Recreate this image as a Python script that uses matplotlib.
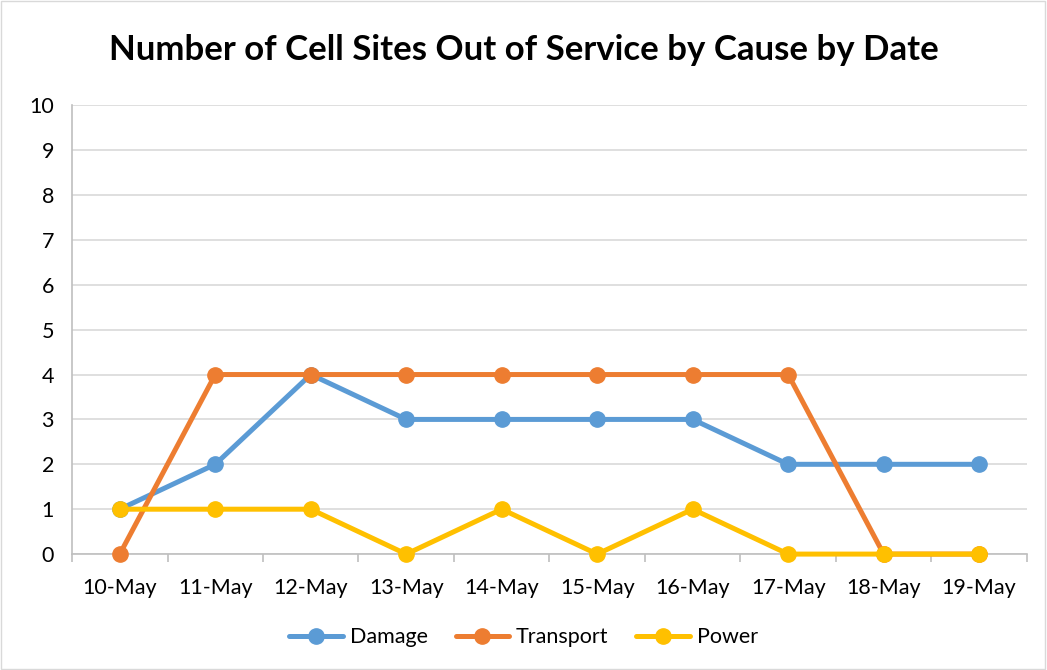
import matplotlib.pyplot as plt
from matplotlib.patches import Rectangle
from matplotlib.ticker import FixedLocator

dates = ['10-May', '11-May', '12-May', '13-May', '14-May',
         '15-May', '16-May', '17-May', '18-May', '19-May']
damage = [1, 2, 4, 3, 3, 3, 3, 2, 2, 2]
transport = [0, 4, 4, 4, 4, 4, 4, 4, 0, 0]
power = [1, 1, 1, 0, 1, 0, 1, 0, 0, 0]

plt.rcParams['font.family'] = ['Lato', 'DejaVu Sans']

fig = plt.figure(figsize=(10.47, 6.7), dpi=100)
ax = fig.add_axes([0.0688, 0.173, 0.912, 0.670])

x = list(range(len(dates)))
for ys, col, lab, z in [(damage, '#5B9BD5', 'Damage', 3),
                        (transport, '#ED7D31', 'Transport', 4),
                        (power, '#FFC000', 'Power', 5)]:
    ax.plot(x, ys, color=col, lw=3.6, marker='o', ms=11, label=lab,
            solid_capstyle='round', zorder=z, clip_on=False)

ax.set_xlim(-0.5, 9.5)
ax.set_ylim(0, 10)
ax.set_yticks(range(0, 11))
ax.set_xticks(x)
ax.set_xticklabels(dates)
ax.xaxis.set_minor_locator(FixedLocator([i - 0.5 for i in range(11)]))
ax.tick_params(axis='x', which='major', length=0, pad=17, labelsize=15.5, colors='#000000')
ax.tick_params(axis='x', which='minor', length=6, color='#bfbfbf', width=1.2)
ax.tick_params(axis='y', length=0, pad=13, labelsize=15.5)
ax.grid(axis='y', color='#d9d9d9', lw=1.2, zorder=0)
for s in ['top', 'right']:
    ax.spines[s].set_visible(False)
for s in ['left', 'bottom']:
    ax.spines[s].set_color('#bfbfbf')
    ax.spines[s].set_linewidth(1.2)

fig.suptitle('Number of Cell Sites Out of Service by Cause by Date',
             y=0.925, va='center', fontsize=25, fontweight='bold')
fig.legend(loc='center', bbox_to_anchor=(0.5, 0.049), ncol=3, frameon=False,
           fontsize=15.5, handlelength=2.5, handletextpad=0.3, columnspacing=1.3)

fig.add_artist(Rectangle((0.001, 0.001), 0.997, 0.997, transform=fig.transFigure,
                         fill=False, edgecolor='#d9d9d9', lw=1))

fig.savefig('out.png', dpi=100)
